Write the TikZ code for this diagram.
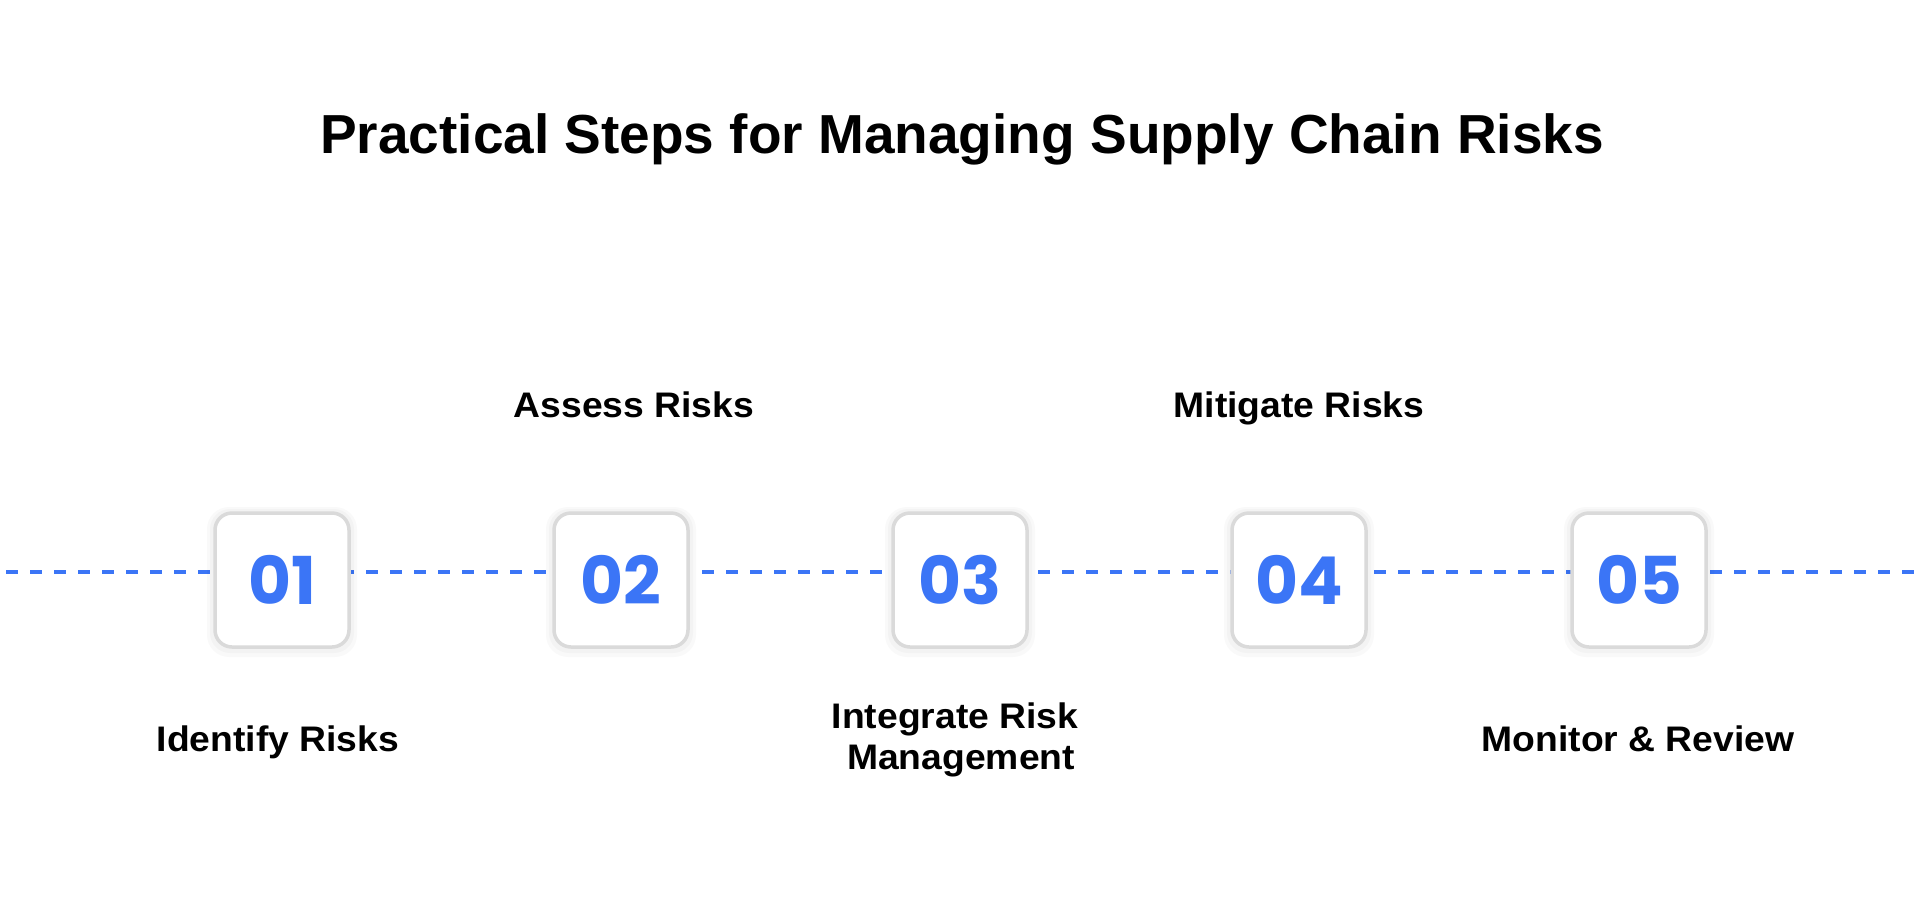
\documentclass[tikz,border=0pt]{standalone}
\usepackage{fontspec}
\setmainfont{Liberation Sans}
\newfontfamily\numfont{Poppins}
\newfontfamily\labfont{Liberation Sans}[FakeStretch=1.05]
\usetikzlibrary{positioning}
\definecolor{stepblue}{RGB}{59,117,246}
\definecolor{boxgray}{RGB}{218,218,218}
\begin{document}
\begin{tikzpicture}[x=1pt,y=-1pt,
  stepbox/.style={draw=boxgray,line width=3.5pt,fill=white,rounded corners=17pt,
     minimum width=134pt,minimum height=134pt,inner sep=0pt,
     font=\numfont\bfseries\fontsize{66}{66}\selectfont,text=stepblue},
  shadowbox/.style={fill=black,rounded corners=22pt,minimum width=150pt,minimum height=150pt,opacity=0.025,inner sep=0pt},
  dashline/.style={stepblue,line width=3.5pt,dash pattern=on 12pt off 12pt,dash phase=18pt},
  steplabel/.style={font=\labfont\bfseries\fontsize{35.5}{41}\selectfont,text=black,anchor=base,inner sep=0pt},
  titletext/.style={font=\bfseries\fontsize{55}{60}\selectfont,text=black,anchor=base,inner sep=0pt}
]
\useasboundingbox[fill=white] (0,0) rectangle (1920,903);
\node[titletext] (title) at (962,153) {Practical Steps for Managing Supply Chain Risks};
\coordinate (L) at (0,572);
\coordinate (R) at (1920,572);
\draw[dashline] (L) -- (R);
\foreach \i/\x in {1/282,2/621,3/960,4/1299,5/1639}{
  \node[shadowbox] (s\i) at (\x,582) {};
  \node[shadowbox,minimum width=144pt,minimum height=144pt,rounded corners=20pt] (t\i) at (\x,581) {};
  \node[stepbox] (b\i) at (\x,580) {0\i};
}
\node[steplabel] (l2) at (634,417) {Assess Risks};
\node[steplabel] (l4) at (1299,417) {Mitigate Risks};
\node[steplabel] (l1) at (278,751) {Identify Risks};
\node[steplabel] (l3) at (955,728) {Integrate Risk};
\node[steplabel] (l3b) at (961,769) {Management};
\node[steplabel] (l5) at (1638,751) {Monitor \& Review};
\end{tikzpicture}
\end{document}
